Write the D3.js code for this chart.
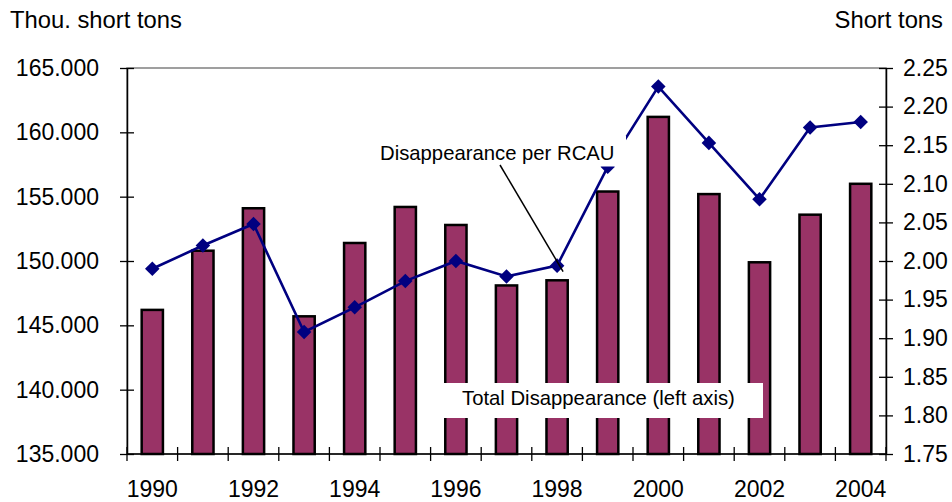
<!DOCTYPE html>
<html>
<head>
<meta charset="utf-8">
<script src="https://cdn.jsdelivr.net/npm/d3@7"></script>
<style>
  html, body { margin: 0; padding: 0; background: #fff; }
  svg { display: block; font-family: "Liberation Sans", Arial, sans-serif; }
</style>
</head>
<body>
<svg id="chart" width="952" height="502"></svg>
<script>
// Years on the category axis
const years = [1990, 1991, 1992, 1993, 1994, 1995, 1996, 1997, 1998, 1999, 2000, 2001, 2002, 2003, 2004];
// Total disappearance, thousand short tons (left axis)
const totalDisappearance = [146.2, 150.8, 154.1, 145.7, 151.4, 154.2, 152.8, 148.1, 148.5, 155.4, 161.2, 155.2, 149.9, 153.6, 156.0];
// Disappearance per RCAU, short tons (right axis)
const perRCAU = [1.990, 2.020, 2.048, 1.908, 1.940, 1.974, 2.000, 1.980, 1.994, 2.122, 2.226, 2.153, 2.080, 2.173, 2.180];
// Axis ticks
const leftTicks = [135, 140, 145, 150, 155, 160, 165];
const rightTicks = [1.75, 1.80, 1.85, 1.90, 1.95, 2.00, 2.05, 2.10, 2.15, 2.20, 2.25];
const yearLabels = [1990, 1992, 1994, 1996, 1998, 2000, 2002, 2004];

const svg = d3.select("#chart");
const m = { left: 127, right: 886, top: 68, bottom: 454 };
const fontSize = 23;
const titleSize = 23.8;

const x = d3.scaleBand().domain(years).range([m.left, m.right]).padding(0);
const yL = d3.scaleLinear().domain([135, 165]).range([m.bottom, m.top]);
const yR = d3.scaleLinear().domain([1.75, 2.25]).range([m.bottom, m.top]);

// Plot area border (gray)
svg.append("rect")
  .attr("x", m.left).attr("y", m.top)
  .attr("width", m.right - m.left).attr("height", m.bottom - m.top)
  .attr("fill", "none").attr("stroke", "#808080").attr("stroke-width", 1.5);

// Bars
const barW = x.bandwidth() * 0.42;
svg.append("g").selectAll("rect")
  .data(years)
  .join("rect")
  .attr("x", (d) => x(d) + (x.bandwidth() - barW) / 2)
  .attr("y", (d, i) => yL(totalDisappearance[i]))
  .attr("width", barW)
  .attr("height", (d, i) => yL(135) - yL(totalDisappearance[i]))
  .attr("fill", "#993366")
  .attr("stroke", "#000")
  .attr("stroke-width", 2.5);

// Left axis
const leftAxis = d3.axisLeft(yL).tickValues(leftTicks).tickFormat(d3.format(".3f")).tickSize(7).tickSizeOuter(0);
const gL = svg.append("g").attr("transform", `translate(${m.left},0)`).call(leftAxis);
gL.select(".domain").attr("stroke", "#000").attr("stroke-width", 1.5);
gL.selectAll(".tick line").attr("x2", -7).attr("x1", 7).attr("stroke", "#000").attr("stroke-width", 1.3);
gL.selectAll(".tick text").attr("x", -28).attr("dy", "0.32em")
  .style("font-size", fontSize + "px").attr("fill", "#000").style("font-family", "Liberation Sans, Arial, sans-serif");

// Right axis
const rightAxis = d3.axisRight(yR).tickValues(rightTicks).tickFormat(d3.format(".2f")).tickSize(7).tickSizeOuter(0);
const gR = svg.append("g").attr("transform", `translate(${m.right},0)`).call(rightAxis);
gR.select(".domain").attr("stroke", "#000").attr("stroke-width", 1.5);
gR.selectAll(".tick line").attr("x1", -7).attr("x2", 7).attr("stroke", "#000").attr("stroke-width", 1.3);
gR.selectAll(".tick text").attr("x", 17).attr("dy", "0.32em")
  .style("font-size", fontSize + "px").attr("fill", "#000").style("font-family", "Liberation Sans, Arial, sans-serif");

// Bottom axis: tick marks between categories, labels every other year
const gB = svg.append("g");
gB.append("line")
  .attr("x1", m.left).attr("x2", m.right)
  .attr("y1", m.bottom).attr("y2", m.bottom)
  .attr("stroke", "#000").attr("stroke-width", 1.5);
const boundaries = years.map((d) => x(d)).concat([x(years[years.length - 1]) + x.bandwidth()]);
gB.selectAll("line.tk")
  .data(boundaries)
  .join("line")
  .attr("class", "tk")
  .attr("x1", (d) => d).attr("x2", (d) => d)
  .attr("y1", m.bottom - 7).attr("y2", m.bottom + 7)
  .attr("stroke", "#000").attr("stroke-width", 1.3);
gB.selectAll("text")
  .data(yearLabels)
  .join("text")
  .attr("x", (d) => x(d) + x.bandwidth() / 2)
  .attr("y", 497)
  .attr("text-anchor", "middle")
  .style("font-size", fontSize + "px")
  .text((d) => d);

// Per-RCAU line with diamond markers
const line = d3.line()
  .x((d, i) => x(years[i]) + x.bandwidth() / 2)
  .y((d) => yR(d));
svg.append("path")
  .datum(perRCAU)
  .attr("d", line)
  .attr("fill", "none")
  .attr("stroke", "#000080")
  .attr("stroke-width", 2.6);
const diamond = d3.symbol().type(d3.symbolDiamond2).size(135);
svg.append("g").selectAll("path")
  .data(perRCAU)
  .join("path")
  .attr("transform", (d, i) => `translate(${x(years[i]) + x.bandwidth() / 2},${yR(d)})`)
  .attr("d", diamond)
  .attr("fill", "#000080");

// Axis titles
svg.append("text").attr("x", 10).attr("y", 28)
  .style("font-size", titleSize + "px").text("Thou. short tons");
svg.append("text").attr("x", 943).attr("y", 28).attr("text-anchor", "end")
  .style("font-size", titleSize + "px").text("Short tons");

// Series labels on white boxes
const labelSize = 20.3;
svg.append("rect").attr("x", 369).attr("y", 136).attr("width", 257).attr("height", 30.5).attr("fill", "#fff");
svg.append("text").attr("x", 380).attr("y", 160)
  .style("font-size", labelSize + "px").text("Disappearance per RCAU");
const px = x(1998) + x.bandwidth() / 2;
const py = yR(perRCAU[years.indexOf(1998)]);
svg.append("line")
  .attr("x1", 500).attr("y1", 165)
  .attr("x2", px + 6).attr("y2", py + 6)
  .attr("stroke", "#000").attr("stroke-width", 1.5);

svg.append("rect").attr("x", 444).attr("y", 383).attr("width", 319).attr("height", 35).attr("fill", "#fff");
svg.append("text").attr("x", 462).attr("y", 405)
  .style("font-size", labelSize + "px").text("Total Disappearance (left axis)");
</script>
</body>
</html>
